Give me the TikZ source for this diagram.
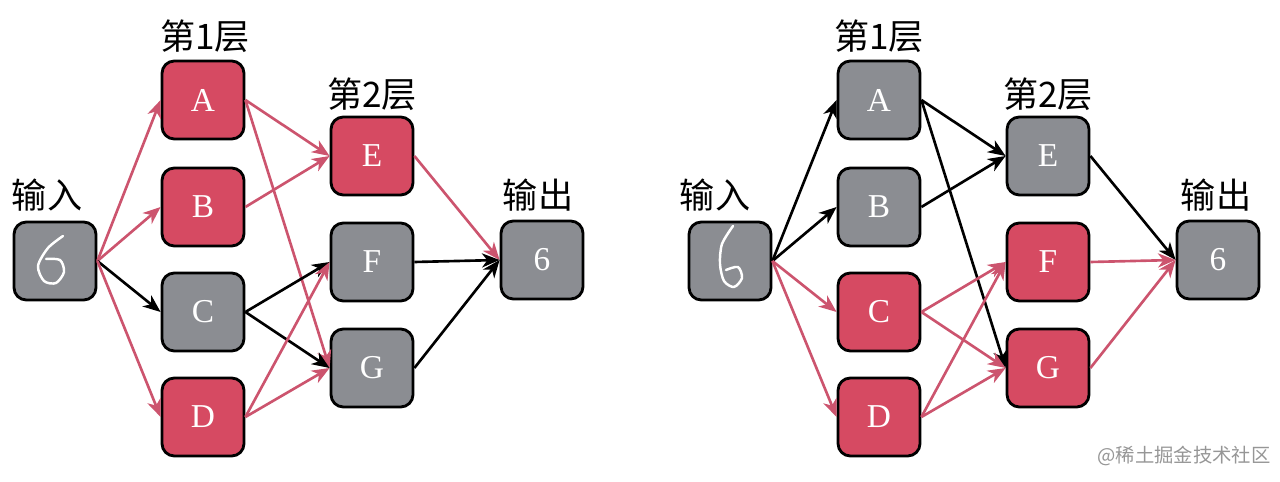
\documentclass[tikz,border=0pt]{standalone}
\usepackage{fontspec}
\setmainfont{Liberation Serif}
\newfontfamily\cjk{Noto Sans CJK SC}
\usetikzlibrary{arrows.meta}

\definecolor{actred}{RGB}{214,74,98}
\definecolor{edgered}{RGB}{204,84,110}
\definecolor{boxgray}{RGB}{139,141,146}
\definecolor{markgray}{RGB}{150,150,150}

\begin{document}
\begin{tikzpicture}[
  x=0.02cm, y=-0.02cm,
  >={Stealth[length=10pt,width=8pt,inset=3pt]},
  unit/.style={draw=black, line width=1.6pt, rounded corners=7pt, minimum width=1.64cm, minimum height=1.56cm,
    inner sep=0pt, fill=boxgray, text=white, font=\fontsize{19}{19}\selectfont},
  hot/.style={unit, fill=actred},
  tag/.style={font=\cjk\fontsize{20}{20}\selectfont},
  arr/.style={->, line width=1.5pt, black},
  harr/.style={->, line width=1.5pt, edgered},
  digit/.style={white, line width=1.4pt, line cap=round, line join=round}
]
\useasboundingbox (0,0) rectangle (1280,482);

% left network
\node[unit] (lin) at (55,261) {};
\node[hot]  (lA) at (203,100) {A};
\node[hot]  (lB) at (203,207) {B};
\node[unit] (lC) at (203,312) {C};
\node[hot]  (lD) at (203,417) {D};
\node[hot]  (lE) at (372,156) {E};
\node[unit] (lF) at (372,262) {F};
\node[unit] (lG) at (372,368) {G};
\node[unit] (lout) at (542,260) {6};

\node[tag] (lintag) at (47,195) {输入};
\node[tag] (ll1) at (205,36) {第1层};
\node[tag] (ll2) at (372,94) {第2层};
\node[tag] (louttag) at (538,195) {输出};

\draw[digit] plot[smooth] coordinates {(63,236) (48,248) (38,266) (44,281) (56,283) (64,272) (60,260) (46,259)};

\draw[harr] (lin.east) -- (lA.west);
\draw[harr] (lin.east) -- (lB.west);
\draw[arr]  (lin.east) -- (lC.west);
\draw[harr] (lin.east) -- (lD.west);
\draw[harr] (lA.east) -- (lE.west);
\draw[harr] (lA.east) -- (lG.west);
\draw[harr] (lB.east) -- (lE.west);
\draw[arr]  (lC.east) -- (lF.west);
\draw[arr]  (lC.east) -- (lG.west);
\draw[harr] (lD.east) -- (lF.west);
\draw[harr] (lD.east) -- (lG.west);
\draw[harr] (lE.east) -- (lout.west);
\draw[arr]  (lF.east) -- (lout.west);
\draw[arr]  (lG.east) -- (lout.west);

% right network
\node[unit] (rin) at (730,261) {};
\node[unit] (rA) at (879,100) {A};
\node[unit] (rB) at (879,207) {B};
\node[hot]  (rC) at (879,312) {C};
\node[hot]  (rD) at (879,417) {D};
\node[unit] (rE) at (1048,156) {E};
\node[hot]  (rF) at (1048,262) {F};
\node[hot]  (rG) at (1048,368) {G};
\node[unit] (rout) at (1218,260) {6};

\node[tag] (rintag) at (715,195) {输入};
\node[tag] (rl1) at (879,36) {第1层};
\node[tag] (rl2) at (1048,94) {第2层};
\node[tag] (routtag) at (1216,195) {输出};

\draw[digit] plot[smooth] coordinates {(733,226) (722,244) (720,264) (724,281) (734,287) (742,278) (738,267) (726,270)};

\draw[arr]  (rin.east) -- (rA.west);
\draw[arr]  (rin.east) -- (rB.west);
\draw[harr] (rin.east) -- (rC.west);
\draw[harr] (rin.east) -- (rD.west);
\draw[arr]  (rA.east) -- (rE.west);
\draw[arr]  (rA.east) -- (rG.west);
\draw[arr]  (rB.east) -- (rE.west);
\draw[harr] (rC.east) -- (rF.west);
\draw[harr] (rC.east) -- (rG.west);
\draw[harr] (rD.east) -- (rF.west);
\draw[harr] (rD.east) -- (rG.west);
\draw[arr]  (rE.east) -- (rout.west);
\draw[harr] (rF.east) -- (rout.west);
\draw[harr] (rG.east) -- (rout.west);

\node[markgray, font=\cjk\fontsize{11}{11}\selectfont] (mark) at (1184,456) {@稀土掘金技术社区};
\end{tikzpicture}
\end{document}
